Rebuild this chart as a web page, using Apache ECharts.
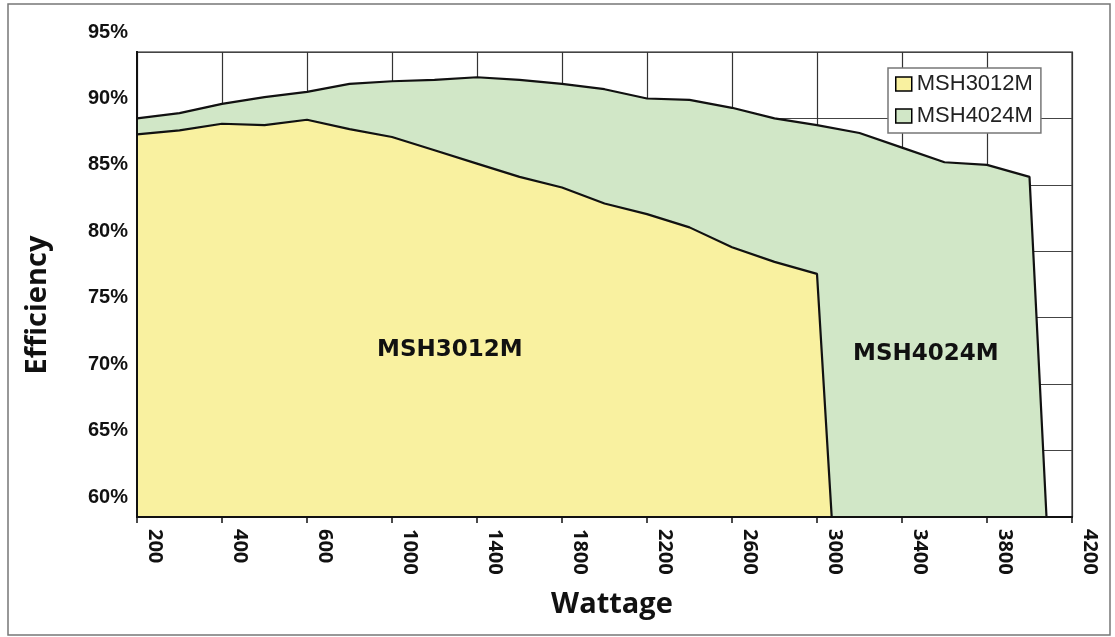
<!DOCTYPE html>
<html>
<head>
<meta charset="utf-8">
<script src="https://cdn.jsdelivr.net/npm/echarts@6/dist/echarts.min.js"></script>
<style>
html,body{margin:0;padding:0;background:#fff;}
#chart{width:1115px;height:637px;}
</style>
</head>
<body>
<div id="chart"></div>
<script>
// Wattage categories (every other one is labelled on the axis)
const wattage = [200,300,400,500,600,800,1000,1200,1400,1600,1800,2000,2200,2400,2600,2800,3000,3200,3400,3600,3800,4000,4200];
// Efficiency (%) — last value drops below the axis (cut off by the plot area)
const msh3012m = [88.8,89.1,89.6,89.5,89.9,89.2,88.6,87.6,86.6,85.6,84.8,83.6,82.8,81.8,80.3,79.2,78.3,25.4,null,null,null,null,null];
const msh4024m = [90.0,90.4,91.1,91.6,92.0,92.6,92.8,92.9,93.1,92.9,92.6,92.2,91.5,91.4,90.8,90.0,89.5,88.9,87.8,86.7,86.5,85.6,21.6];
const yTicks = {min: 60, max: 95, step: 5};
const seriesNames = ['MSH3012M', 'MSH4024M'];
const fills = {MSH3012M: '#F9F1A0', MSH4024M: '#D1E7C7'};
const axisTitles = {x: 'Wattage', y: 'Efficiency'};

const chart = echarts.init(document.getElementById('chart'), null, {renderer: 'canvas'});
chart.setOption({
  backgroundColor: '#fff',
  animation: false,
  grid: {left: 137, right: 43, top: 52, bottom: 120, show: true, borderColor: '#8a8a8a', borderWidth: 2, backgroundColor: 'transparent'},
  legend: {
    orient: 'vertical', left: 888, top: 68, z: 20,
    padding: [5, 8, 6, 7],
    itemWidth: 16, itemHeight: 14, itemGap: 10,
    backgroundColor: '#fff', borderColor: '#777', borderWidth: 1.5,
    textStyle: {fontFamily: 'Liberation Sans', fontSize: 22, color: '#222'},
    data: seriesNames.map(n => ({name: n, icon: 'rect', itemStyle: {color: fills[n], borderColor: '#000', borderWidth: 1.5}}))
  },
  xAxis: [{
    type: 'category', boundaryGap: false, data: wattage,
    axisLine: {lineStyle: {color: '#111', width: 2}},
    axisTick: {interval: 1, length: 6, lineStyle: {color: '#111', width: 1.5}},
    axisLabel: {interval: 1, rotate: -90, margin: 12, verticalAlign: 'bottom', lineHeight: 36,
      fontFamily: 'Open Sans', fontWeight: 'bold', fontSize: 20, color: '#111'},
    splitLine: {show: true, interval: 1, lineStyle: {color: '#333', width: 1.2}}
  }, {
    // overlay: only the bottom axis line, drawn above the filled areas
    type: 'category', boundaryGap: false, data: wattage, position: 'bottom', z: 10,
    axisLine: {lineStyle: {color: '#111', width: 2}},
    axisTick: {show: false}, axisLabel: {show: false}, splitLine: {show: false}
  }],
  yAxis: [{
    type: 'value', min: yTicks.min, max: yTicks.max, interval: yTicks.step,
    axisLine: {show: true, lineStyle: {color: '#111', width: 2}},
    axisTick: {show: false},
    axisLabel: {margin: 9, verticalAlign: 'bottom', lineHeight: 40, formatter: v => v + '%',
      fontFamily: 'Liberation Sans', fontWeight: 'bold', fontSize: 20, color: '#111'},
    splitLine: {show: true, lineStyle: {color: '#444', width: 1.2}}
  }, {
    // overlay: only the left axis line, drawn above the filled areas
    type: 'value', min: yTicks.min, max: yTicks.max, interval: yTicks.step, position: 'left', z: 10,
    axisLine: {show: true, lineStyle: {color: '#111', width: 2}},
    axisTick: {show: false}, axisLabel: {show: false}, splitLine: {show: false}
  }],
  series: [
    {name: 'MSH4024M', type: 'line', data: msh4024m, symbol: 'none', clip: true, z: 2,
     color: fills.MSH4024M,
     lineStyle: {color: '#111', width: 2.2}, areaStyle: {color: fills.MSH4024M, opacity: 1, origin: 'start'}},
    {name: 'MSH3012M', type: 'line', data: msh3012m, symbol: 'none', clip: true, z: 3,
     color: fills.MSH3012M,
     lineStyle: {color: '#111', width: 2.2}, areaStyle: {color: fills.MSH3012M, opacity: 1, origin: 'start'}}
  ],
  graphic: [
    {type: 'rect', shape: {x: 8, y: 4, width: 1102, height: 631}, style: {fill: 'none', stroke: '#777', lineWidth: 1.5}, z: 100, silent: true},
    {type: 'text', x: 612, y: 605, z: 100, style: {text: axisTitles.x, font: 'bold 29px "Open Sans"', fill: '#111', align: 'center', verticalAlign: 'middle'}},
    {type: 'text', x: 38, y: 305, rotation: Math.PI / 2, z: 100, style: {text: axisTitles.y, font: 'bold 29px "Open Sans"', fill: '#111', align: 'center', verticalAlign: 'middle'}},
    {type: 'text', left: 377, top: 339, z: 100, style: {text: 'MSH3012M', font: 'bold 23px "DejaVu Sans"', fill: '#111'}},
    {type: 'text', left: 853, top: 343, z: 100, style: {text: 'MSH4024M', font: 'bold 23px "DejaVu Sans"', fill: '#111'}}
  ]
});
</script>
</body>
</html>
